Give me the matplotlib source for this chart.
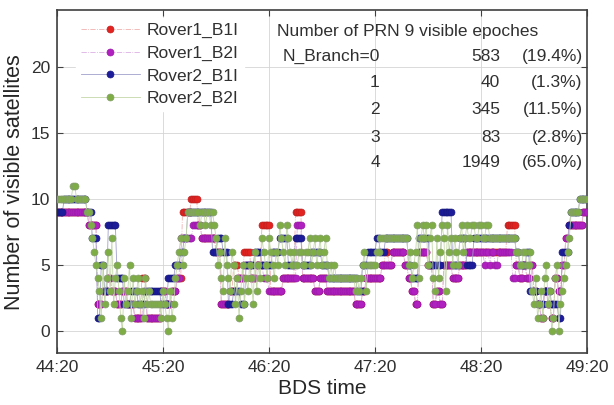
import numpy as np
import matplotlib.pyplot as plt

plt.rcParams['font.family'] = ['Liberation Sans', 'DejaVu Sans']

# change points (second after 44:20, number of satellites), value holds until next point
rover1_b1i = [(0, 9), (18, 8), (23, 2), (26, 3), (29, 4), (31, 3), (34, 2), (37, 3), (40, 2), (44, 1),
              (48, 4), (51, 1), (59, 3), (62, 2), (65, 3), (68, 4), (71, 9), (76, 10), (80, 8), (82, 7),
              (90, 6), (93, 2), (98, 3), (100, 5), (103, 4), (106, 6), (110, 4), (113, 5), (116, 8),
              (121, 3), (128, 4), (135, 9), (139, 4), (146, 3), (149, 4), (153, 3), (169, 2), (173, 3),
              (175, 4), (184, 5), (186, 6), (188, 5), (190, 6), (197, 5), (199, 4), (201, 3), (203, 2),
              (205, 6), (210, 5), (213, 2), (215, 3), (217, 2), (219, 5), (224, 4), (228, 5), (232, 6),
              (255, 8), (260, 5), (262, 4), (264, 5), (266, 4), (268, 5), (270, 3), (272, 2), (274, 1),
              (276, 3), (278, 2), (280, 1), (282, 4), (284, 3), (286, 5), (288, 7), (290, 8), (298, 9)]

rover1_b2i = [(0, 9), (18, 8), (23, 2), (26, 3), (29, 4), (31, 3), (34, 2), (37, 3), (40, 2), (44, 1),
              (49, 3), (51, 1), (59, 3), (62, 2), (65, 3), (68, 4), (70, 7), (77, 8), (82, 7), (90, 6),
              (93, 2), (98, 3), (102, 4), (106, 5), (110, 4), (113, 5), (117, 4), (120, 3), (128, 4),
              (136, 8), (139, 4), (146, 3), (149, 4), (153, 3), (169, 2), (173, 3), (175, 4), (184, 5),
              (190, 6), (197, 5), (199, 4), (201, 3), (203, 2), (205, 6), (210, 5), (213, 2), (215, 3),
              (217, 2), (219, 5), (224, 4), (228, 5), (232, 6), (242, 5), (243, 6), (245, 5), (246, 6),
              (248, 5), (250, 6), (258, 4), (260, 5), (262, 4), (264, 5), (266, 4), (268, 5), (270, 3),
              (272, 2), (274, 1), (276, 3), (278, 2), (280, 1), (282, 4), (284, 3), (286, 5), (288, 7),
              (290, 8), (298, 9)]

rover2_b1i = [(0, 9), (4, 10), (17, 9), (20, 7), (23, 1), (25, 5), (27, 3), (29, 8), (34, 4), (38, 2),
              (42, 3), (46, 2), (50, 3), (54, 3), (59, 2), (63, 4), (67, 5), (70, 6), (72, 7), (74, 9),
              (88, 6), (91, 7), (94, 6), (97, 2), (100, 3), (104, 2), (107, 5), (112, 6), (116, 5),
              (122, 6), (126, 7), (131, 5), (135, 7), (139, 5), (144, 6), (150, 5), (154, 4), (170, 3),
              (173, 5), (176, 6), (181, 7), (183, 6), (186, 7), (199, 5), (201, 4), (205, 7), (211, 5),
              (218, 9), (224, 5), (228, 7), (232, 5), (236, 7), (260, 6), (262, 5), (266, 6), (268, 3),
              (272, 2), (276, 3), (280, 2), (284, 1), (286, 6), (290, 8), (291, 9), (296, 10)]

rover2_b2i = [(0, 10), (9, 11), (11, 10), (17, 9), (19, 8), (20, 7), (21, 6), (22, 5), (23, 4), (24, 3),
              (25, 1), (26, 5), (27, 2), (28, 4), (29, 6), (30, 3), (31, 7), (32, 2), (33, 4), (34, 5),
              (35, 3), (36, 1), (37, 0), (38, 4), (39, 2), (40, 3), (41, 5), (42, 1), (43, 4), (44, 2),
              (45, 3), (46, 4), (47, 2), (48, 3), (49, 1), (50, 4), (51, 2), (52, 3), (53, 2), (59, 1),
              (60, 3), (61, 2), (62, 1), (63, 0), (64, 3), (65, 1), (66, 2), (67, 4), (68, 5), (69, 6),
              (70, 7), (71, 5), (72, 6), (73, 7), (74, 9), (81, 8), (82, 9), (84, 8), (85, 9), (87, 8),
              (88, 9), (89, 8), (90, 7), (91, 5), (92, 6), (93, 4), (94, 3), (95, 7), (96, 5), (97, 4),
              (98, 3), (99, 6), (100, 5), (101, 2), (102, 4), (103, 1), (104, 3), (105, 5), (106, 2),
              (107, 4), (108, 3), (109, 5), (110, 4), (111, 2), (112, 6), (113, 3), (114, 5), (115, 4),
              (116, 7), (117, 6), (118, 5), (119, 4), (120, 7), (121, 6), (122, 5), (123, 4), (124, 6),
              (125, 5), (126, 8), (127, 7), (128, 6), (129, 5), (130, 8), (131, 7), (132, 6), (133, 5),
              (134, 6), (135, 5), (137, 6), (139, 5), (141, 6), (143, 7), (144, 5), (145, 6), (146, 7),
              (147, 5), (148, 6), (149, 7), (150, 5), (151, 6), (152, 7), (153, 5), (154, 4), (155, 5),
              (156, 4), (157, 5), (158, 4), (169, 3), (170, 4), (171, 3), (172, 4), (173, 5), (174, 6),
              (175, 3), (176, 5), (181, 6), (183, 7), (199, 5), (200, 6), (201, 4), (202, 5), (203, 6),
              (204, 8), (205, 4), (206, 7), (207, 8), (208, 7), (209, 8), (210, 5), (211, 7), (212, 8),
              (213, 4), (214, 3), (215, 7), (216, 4), (217, 6), (218, 8), (219, 7), (220, 3), (221, 8),
              (222, 6), (223, 7), (224, 5), (225, 7), (226, 6), (227, 5), (228, 7), (229, 8), (230, 6),
              (231, 7), (232, 8), (233, 7), (235, 8), (237, 7), (239, 8), (241, 7), (243, 8), (245, 7),
              (260, 6), (262, 5), (264, 6), (266, 5), (268, 6), (269, 3), (270, 2), (271, 4), (272, 1),
              (273, 2), (274, 3), (275, 1), (276, 4), (277, 5), (278, 2), (279, 3), (280, 0), (281, 1),
              (282, 4), (283, 5), (284, 0), (285, 2), (286, 3), (287, 4), (288, 5), (289, 6), (290, 7),
              (291, 9), (296, 10)]

names = ['Rover1_B1I', 'Rover1_B2I', 'Rover2_B1I', 'Rover2_B2I']
tick_labels = ['44:20', '45:20', '46:20', '47:20', '48:20', '49:20']

branches = [0, 1, 2, 3, 4]
epochs = [583, 40, 345, 83, 1949]


def expand(points, t_end=300):
    t_chg = np.array([p[0] for p in points])
    vals = np.array([p[1] for p in points])
    t = np.arange(0, t_end + 1)
    idx = np.searchsorted(t_chg, t, side='right') - 1
    return t, vals[idx]


colors = ['#e3231f', '#b01fc0', '#1d1d9c', '#7fad45']
line_colors = ['#f0b0ae', '#ddb0e4', '#a0a0cc', '#c4d8a8']
edge_colors = ['#c02020', '#9a1aa8', '#181880', '#839c6c']
styles = ['-.', '-.', '-', '-']

fig = plt.figure(figsize=(6.14, 4.05), dpi=100)
ax = fig.add_axes([0.093, 0.128, 0.863, 0.847])

for i, pts in enumerate([rover1_b1i, rover1_b2i, rover2_b1i, rover2_b2i]):
    t, v = expand(pts)
    ax.plot(t, v, linestyle=styles[i], lw=0.6, color=line_colors[i], marker='o', ms=5.0,
            mfc=colors[i], mec=edge_colors[i], mew=0.5, label=names[i], zorder=2 + i)

ax.set_xlim(0, 300)
ax.set_ylim(-1.7, 24.3)
ax.set_xticks(np.arange(0, 301, 60))
ax.set_xticklabels(tick_labels)
ax.set_yticks([0, 5, 10, 15, 20])
ax.grid(True, color='#d4d4d4', lw=0.6)
ax.set_axisbelow(True)
ax.tick_params(direction='in', top=True, right=True, length=4, width=0.8,
               labelsize=12.5, labelcolor='#303030', color='#404040', pad=5)
for s in ax.spines.values():
    s.set_color('#404040')
    s.set_linewidth(1.2)

ax.set_xlabel('BDS time', fontsize=15, color='#262626', labelpad=3)
ax.set_ylabel('Number of visible satellites', fontsize=15.5, color='#262626', labelpad=4)

leg = ax.legend(loc='upper left', bbox_to_anchor=(0.02, 1.0), fontsize=12.5, handlelength=3.4,
                handletextpad=0.4, labelspacing=0.42, borderpad=0.3, borderaxespad=0.45,
                frameon=True, fancybox=False, edgecolor='white', framealpha=1)
for txt in leg.get_texts():
    txt.set_color('#303030')

# table of visible epochs
total = sum(epochs)
tc = '#303030'
ax.text(0.415, 0.939, 'Number of PRN 9 visible epoches', transform=ax.transAxes,
        fontsize=12.5, color=tc, va='center', ha='left')
row_y = [0.864, 0.788, 0.709, 0.630, 0.557]
for k, b in enumerate(branches):
    lab = 'N_Branch=%d' % b if k == 0 else '%d' % b
    ax.text(0.609, row_y[k], lab, transform=ax.transAxes, fontsize=12.5, color=tc,
            va='center', ha='right')
    ax.text(0.836, row_y[k], '%d' % epochs[k], transform=ax.transAxes, fontsize=12.5,
            color=tc, va='center', ha='right')
    ax.text(0.992, row_y[k], '(%.1f%%)' % (100.0 * epochs[k] / total), transform=ax.transAxes,
            fontsize=12.5, color=tc, va='center', ha='right')

fig.savefig('out.png', dpi=100)
